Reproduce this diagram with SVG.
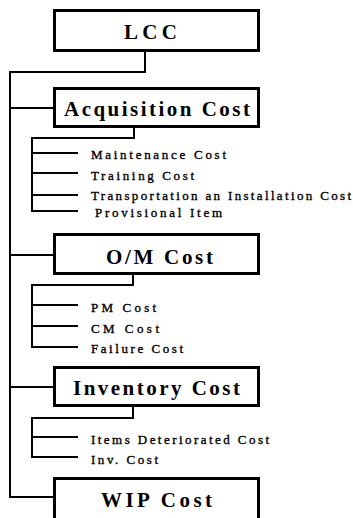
<svg xmlns="http://www.w3.org/2000/svg" width="353" height="518" viewBox="0 0 353 518">
<style>
.box{fill:#fff;stroke:#000;stroke-width:3}
.t{font-family:"Liberation Serif","Times New Roman",serif;font-weight:bold;font-size:21px;fill:#000}
.s{font-family:"Liberation Serif","Times New Roman",serif;font-size:13px;fill:#000;stroke:#000;stroke-width:0.35}
.c{fill:none;stroke:#000;stroke-width:2}
</style>
<rect width="353" height="518" fill="#fff"/>
<g id="connectors" class="c">
<path d="M145,52 V72 H10 V497 H54"/>
<path d="M10,108 H54 M10,255 H54 M10,387 H54"/>
<path d="M134,128 V138 H32 V211 H78 M32,153 H78 M32,173 H78 M32,195 H78"/>
<path d="M133,275 V285 H32 V347 H78 M32,305 H78 M32,326 H78"/>
<path d="M133,407 V418 H32 V457 H78 M32,437 H78"/>
</g>
<g id="lcc"><rect class="box" x="54.5" y="10.5" width="204" height="40"/><text class="t" x="124" y="39" textLength="53" lengthAdjust="spacing">LCC</text></g>
<g id="acquisition"><rect class="box" x="54.5" y="88.5" width="204" height="38"/><text class="t" x="64" y="116" textLength="186" lengthAdjust="spacing">Acquisition Cost</text></g>
<g id="maintenance"><text class="s" x="91" y="159" textLength="135" lengthAdjust="spacing">Maintenance Cost</text></g>
<g id="training"><text class="s" x="91" y="180" textLength="103" lengthAdjust="spacing">Training Cost</text></g>
<g id="transportation"><text class="s" x="91" y="200" textLength="260" lengthAdjust="spacing">Transportation an Installation Cost</text></g>
<g id="provisional"><text class="s" x="95" y="217" textLength="127" lengthAdjust="spacing">Provisional Item</text></g>
<g id="om"><rect class="box" x="54.5" y="234.5" width="204" height="39"/><text class="t" x="106" y="264" textLength="107" lengthAdjust="spacing">O/M Cost</text></g>
<g id="pm"><text class="s" x="91" y="312" textLength="65" lengthAdjust="spacing">PM Cost</text></g>
<g id="cm"><text class="s" x="91" y="333" textLength="68" lengthAdjust="spacing">CM Cost</text></g>
<g id="failure"><text class="s" x="91" y="353" textLength="92" lengthAdjust="spacing">Failure Cost</text></g>
<g id="inventory"><rect class="box" x="54.5" y="367.5" width="204" height="38"/><text class="t" x="73" y="395" textLength="167" lengthAdjust="spacing">Inventory Cost</text></g>
<g id="items"><text class="s" x="91" y="444" textLength="178" lengthAdjust="spacing">Items Deteriorated Cost</text></g>
<g id="inv"><text class="s" x="91" y="464" textLength="67" lengthAdjust="spacing">Inv. Cost</text></g>
<g id="wip"><rect class="box" x="54.5" y="478.5" width="204" height="50"/><text class="t" x="101" y="507" textLength="111" lengthAdjust="spacing">WIP Cost</text></g>
</svg>
